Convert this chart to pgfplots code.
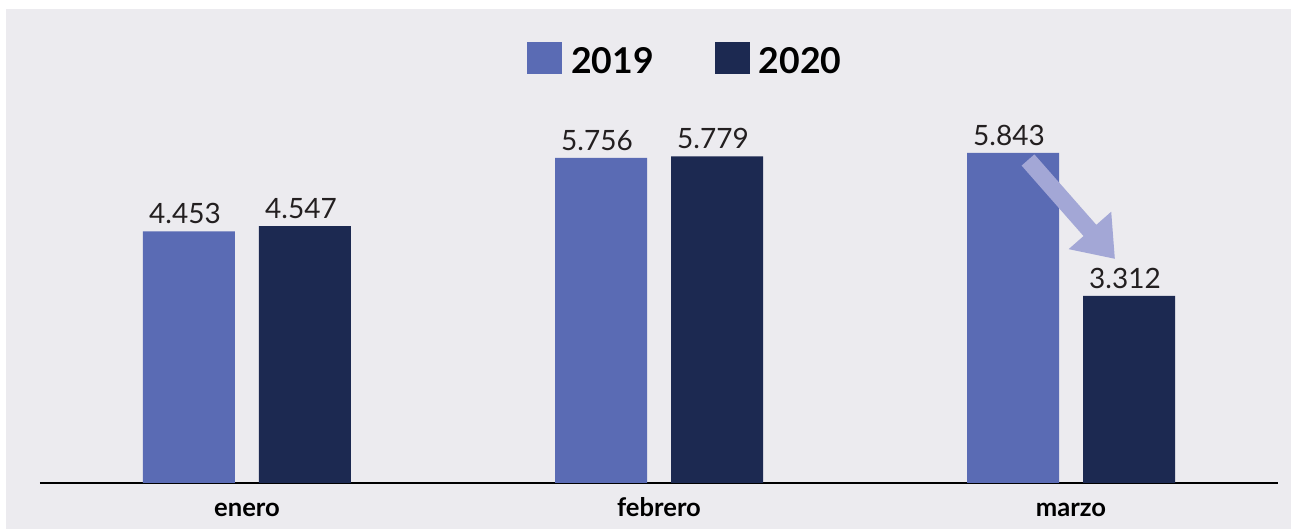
\documentclass[border=0pt]{standalone}
\usepackage{fontspec}
\setmainfont{Lato}
\usepackage{pgfplots}
\pgfplotsset{compat=1.18}
\usetikzlibrary{arrows.meta}
\definecolor{bgc}{HTML}{ECEBEF}
\definecolor{c19}{HTML}{5A6BB4}
\definecolor{c20}{HTML}{1C2951}
\definecolor{carrow}{HTML}{A3A7D6}
\definecolor{txt}{HTML}{231F20}
\begin{document}
\begin{tikzpicture}
\path[use as bounding box] (-20pt,-23pt) rectangle (625.5pt,241.5pt);
\fill[white] (-20pt,-23pt) rectangle (625.5pt,241.5pt);
\fill[bgc] (-17pt,-23pt) rectangle (625.5pt,237pt);
\begin{axis}[
  at={(0pt,0pt)}, anchor=south west,
  scale only axis, width=619pt, height=226pt,
  ybar=12pt, bar width=46pt,
  xmin=-0.5024, xmax=2.5024, ymin=0, ymax=8000,
  clip=false,
  axis x line*=bottom, axis y line=none,
  x axis line style={line width=0.75pt, black},
  xtick={0,1,2}, xticklabels={enero,febrero,marzo},
  major tick length=0pt, ytick=\empty,
  xticklabel style={font=\bfseries\fontsize{12.8}{12.8}\selectfont, text=black, anchor=base, yshift=-17pt, inner sep=0pt},
  nodes near coords={\pgfmathprintnumber[fixed,precision=0,1000 sep={.},assume math mode=true]{\pgfplotspointmeta}},
  every node near coord/.append style={font=\fontsize{14}{14}\selectfont, text=txt, anchor=south, inner sep=0pt, yshift=3.5pt, xshift=-2pt},
  legend columns=2,
  legend style={draw=none, fill=none, at={(0.5205,0.938)}, anchor=center,
    font=\bfseries\fontsize{17.8}{17.8}\selectfont, text=black,
    /tikz/every even column/.append style={column sep=30.5pt},
    nodes={inner sep=0pt}},
  legend image code/.code={\fill[#1] (0pt,-6.25pt) rectangle (17.5pt,9.75pt); \path (22pt,0pt);},
]
\addplot[fill=c19, draw=none] coordinates {(0,4453) (1,5756) (2,5843)};
\addplot[fill=c20, draw=none] coordinates {(0,4547) (1,5779) (2,3312)};
\legend{2019,2020}
\draw[carrow, line width=8.5pt, -{Triangle[width=27pt,length=19pt]}] (axis cs:1.8956,5717) -- (axis cs:2.1068,3965);
\end{axis}
\end{tikzpicture}
\end{document}
